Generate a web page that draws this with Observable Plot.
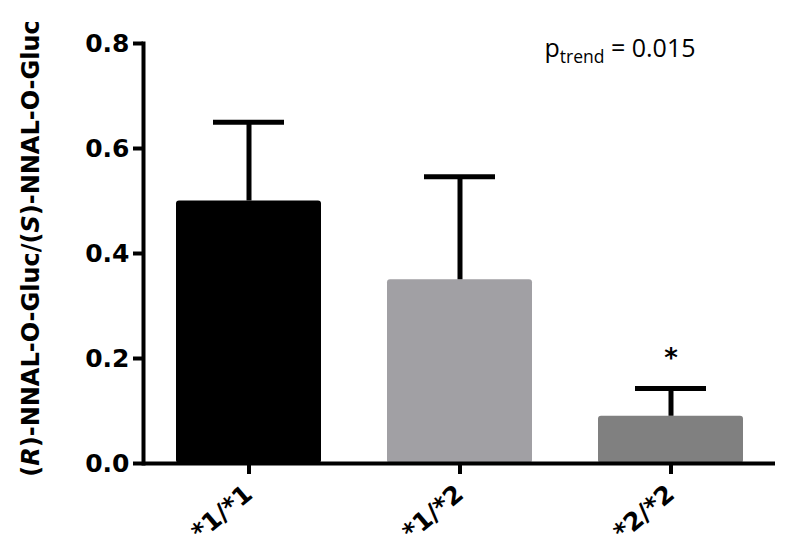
<!DOCTYPE html>
<html><head><meta charset="utf-8">
<script src="https://cdn.jsdelivr.net/npm/d3@7"></script>
<script src="https://cdn.jsdelivr.net/npm/@observablehq/plot@0.6"></script>
<style>
body{margin:0;background:#fff}
#chart svg{overflow:visible}
</style>
</head><body><div id="chart"></div>
<script>
const genotypes = ["*1/*1", "*1/*2", "*2/*2"];
const means = [0.50, 0.35, 0.09];
const upper = [0.65, 0.546, 0.143];
const colors = ["#000000", "#a1a0a4", "#808080"];
const stars = ["", "", "*"];
const yTicks = [0, 0.2, 0.4, 0.6, 0.8];
const pTrendParts = ["p", "trend", " = 0.015"];
const yLabelParts = [["(", false], ["R", true], [")-NNAL-O-Gluc/(", false], ["S", true], [")-NNAL-O-Gluc", false]];

const data = genotypes.map((g, i) => ({g, mean: means[i], upper: upper[i], star: stars[i]}));
const FONT = "'DejaVu Sans', Arial, Helvetica, sans-serif";

const plot = Plot.plot({
  width: 800, height: 558,
  marginLeft: 143, marginRight: 25, marginTop: 43, marginBottom: 95,
  style: {fontFamily: FONT, background: "#fff", color: "#000"},
  x: {domain: genotypes, paddingInner: 0.315, paddingOuter: 0.15, label: null},
  y: {domain: [0, 0.8], label: null},
  color: {domain: genotypes, range: colors},
  marks: [
    Plot.barY(data, {x: "g", y: "mean", fill: "g", rx: 3}),
    Plot.ruleX(data, {x: "g", y1: "mean", y2: "upper", stroke: "#000", strokeWidth: 5}),
    Plot.tickY(data, {x: "g", y: "upper", stroke: "#000", strokeWidth: 5, insetLeft: 37, insetRight: 37}),
    Plot.text(data, {x: "g", y: "upper", text: "star", dy: -30, fontSize: 26, fontWeight: "bold", fill: "#000"}),
    Plot.ruleY([0], {stroke: "#000", strokeWidth: 4}),
    Plot.frame({anchor: "left", stroke: "#000", strokeWidth: 4}),
    Plot.axisY({ticks: yTicks, tickFormat: d3.format(".1f"), tickSize: 10, tickPadding: 4, stroke: "#000", strokeWidth: 4, fontSize: 25, fontWeight: "bold", fill: "#000", label: null}),
    Plot.axisX({tickSize: 11, tickPadding: 16, stroke: "#000", strokeWidth: 4, tickRotate: -40, fontSize: 25, fontWeight: "bold", fill: "#000", label: null}),
    Plot.text(["ptrend"], {frameAnchor: "top-right", textAnchor: "end", lineAnchor: "bottom", dx: -80, dy: 13, fontSize: 25, fill: "#000", fontFamily: "'Open Sans', Lato, sans-serif"}),
    Plot.text(["ylabel"], {frameAnchor: "left", textAnchor: "middle", lineAnchor: "middle", rotate: -90, dx: -112, dy: -5, fontSize: 24, fontWeight: "bold", fill: "#000"})
  ]
});

const svg = d3.select(plot);
svg.selectAll("text").each(function() {
  const t = d3.select(this);
  const content = this.textContent;
  if (content === "ptrend") {
    t.text(null);
    t.append("tspan").text(pTrendParts[0]);
    t.append("tspan").attr("font-size", 17.5).attr("dy", 6).text(pTrendParts[1]);
    t.append("tspan").attr("dy", -6).text(pTrendParts[2]);
  } else if (content === "ylabel") {
    t.text(null);
    for (const [s, it] of yLabelParts) {
      const sp = t.append("tspan").text(s);
      if (it) sp.attr("font-style", "italic");
    }
  }
});

document.getElementById("chart").appendChild(plot);
</script>
</body></html>
